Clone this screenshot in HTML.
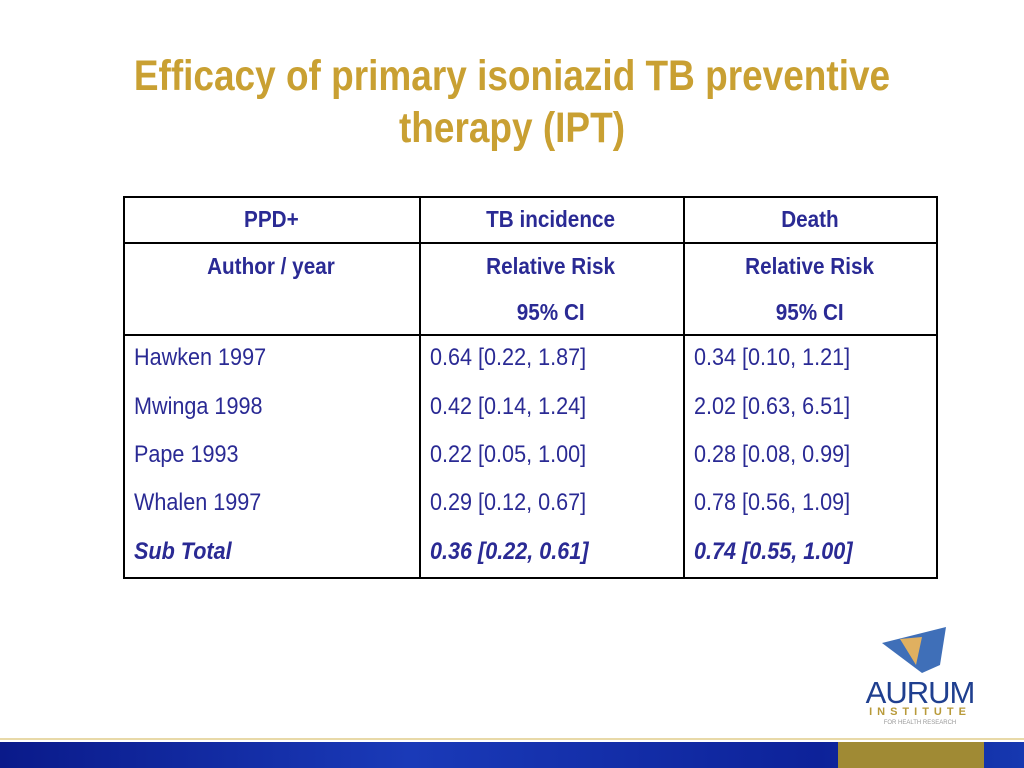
<!DOCTYPE html>
<html><head><meta charset="utf-8"><style>
body{margin:0;width:1024px;height:768px;background:#fff;position:relative;overflow:hidden;font-family:"Liberation Sans",sans-serif}
#title{position:absolute;left:0;width:1024px;top:50px;text-align:center;color:#c9a032;font-size:43px;font-weight:bold;line-height:52px;transform:scaleX(0.86);transform-origin:512px 0;white-space:nowrap}
.ln{position:absolute;background:#000}
.t{position:absolute;color:#2a2a94;font-size:24px;line-height:30px;height:30px;white-space:nowrap}
.t span{display:inline-block;transform:scaleX(0.9);transform-origin:left}
.c{text-align:center;font-weight:bold;font-size:23px}
.c span{transform-origin:center}
.it{font-weight:bold;font-style:italic}
</style></head><body>
<div id="title">Efficacy of primary isoniazid TB preventive<br>therapy (IPT)</div>
<div>
<div class="ln" style="left:123px;top:196px;width:815px;height:1.5px"></div>
<div class="ln" style="left:123px;top:242px;width:815px;height:1.5px"></div>
<div class="ln" style="left:123px;top:334px;width:815px;height:1.5px"></div>
<div class="ln" style="left:123px;top:577px;width:815px;height:1.5px"></div>
<div class="ln" style="left:123px;top:196px;width:1.5px;height:383px"></div>
<div class="ln" style="left:419px;top:196px;width:1.5px;height:383px"></div>
<div class="ln" style="left:683px;top:196px;width:1.5px;height:383px"></div>
<div class="ln" style="left:936px;top:196px;width:1.5px;height:383px"></div>

<div class="t c" style="left:123px;width:296px;top:204px"><span>PPD+</span></div>
<div class="t c" style="left:419px;width:264px;top:204px"><span>TB incidence</span></div>
<div class="t c" style="left:683px;width:254px;top:204px"><span>Death</span></div>
<div class="t c" style="left:123px;width:296px;top:251px"><span>Author / year</span></div>
<div class="t c" style="left:419px;width:264px;top:251px"><span>Relative Risk</span></div>
<div class="t c" style="left:683px;width:254px;top:251px"><span>Relative Risk</span></div>
<div class="t c" style="left:419px;width:264px;top:297px"><span>95% CI</span></div>
<div class="t c" style="left:683px;width:254px;top:297px"><span>95% CI</span></div>

<div class="t" style="left:134px;top:343px"><span>Hawken 1997</span></div>
<div class="t" style="left:430px;top:343px"><span>0.64 [0.22, 1.87]</span></div>
<div class="t" style="left:694px;top:343px"><span>0.34 [0.10, 1.21]</span></div>
<div class="t" style="left:134px;top:392px"><span>Mwinga 1998</span></div>
<div class="t" style="left:430px;top:392px"><span>0.42 [0.14, 1.24]</span></div>
<div class="t" style="left:694px;top:392px"><span>2.02 [0.63, 6.51]</span></div>
<div class="t" style="left:134px;top:440px"><span>Pape 1993</span></div>
<div class="t" style="left:430px;top:440px"><span>0.22 [0.05, 1.00]</span></div>
<div class="t" style="left:694px;top:440px"><span>0.28 [0.08, 0.99]</span></div>
<div class="t" style="left:134px;top:488px"><span>Whalen 1997</span></div>
<div class="t" style="left:430px;top:488px"><span>0.29 [0.12, 0.67]</span></div>
<div class="t" style="left:694px;top:488px"><span>0.78 [0.56, 1.09]</span></div>
<div class="t it" style="left:134px;top:537px"><span>Sub Total</span></div>
<div class="t it" style="left:430px;top:537px"><span>0.36 [0.22, 0.61]</span></div>
<div class="t it" style="left:694px;top:537px"><span>0.74 [0.55, 1.00]</span></div>
</div>
<div style="position:absolute;left:860px;top:625px;width:120px;height:110px">
<svg width="120" height="60" style="position:absolute;left:0;top:0"><polygon points="22,18 86,2 80,40 62,48" fill="#3f6fb8"/><polygon points="40,14 62,12 56,40" fill="#e0b060"/></svg>
<div style="position:absolute;left:0;top:50px;width:120px;text-align:center;color:#1f3f8f;font-size:31px;letter-spacing:-1px">AURUM</div>
<div style="position:absolute;left:0;top:81px;width:120px;text-align:center;color:#b89a3a;font-size:11px;letter-spacing:5px;font-weight:bold">INSTITUTE</div>
<div style="position:absolute;left:0;top:95px;width:120px;text-align:center;color:#999;font-size:6px">FOR HEALTH RESEARCH</div>
</div>
<div style="position:absolute;left:0;top:738px;width:1024px;height:2px;background:#e8d9a8"></div>
<div style="position:absolute;left:0;top:742px;width:1024px;height:26px;background:linear-gradient(90deg,#0a1a8a,#1a3ab8 40%,#0d2299 80%,#1638b0)"></div>
<div style="position:absolute;left:838px;top:742px;width:146px;height:26px;background:#a08a34"></div>
</body></html>
